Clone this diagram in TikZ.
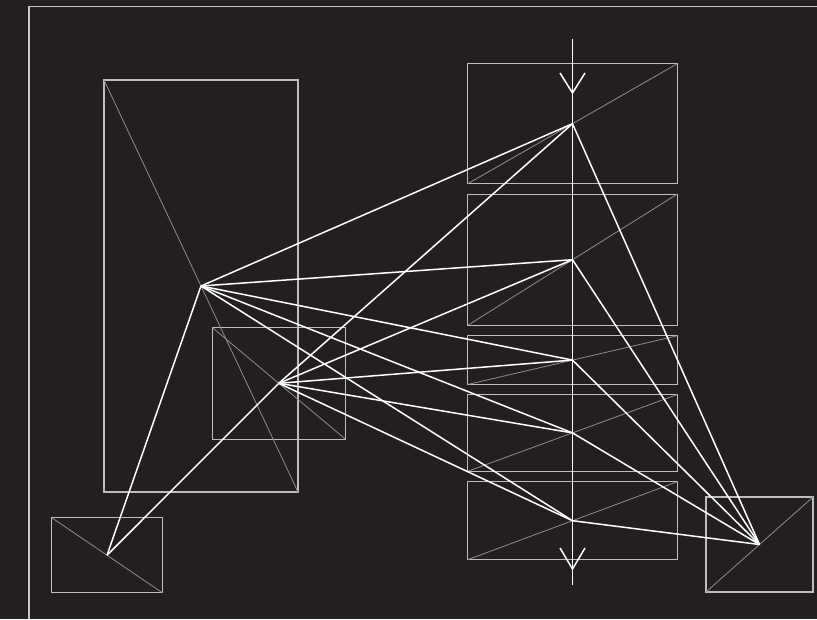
\documentclass[tikz,border=0pt]{standalone}
\begin{document}
\begin{tikzpicture}[x=1pt,y=-1pt,
  box/.style={draw=boxgrey, line width=1.1pt, inner sep=0pt, outer sep=0pt, minimum width=#1},
  diag/.style={draw=diaggrey, line width=0.8pt},
  link/.style={draw=white, line width=1.5pt},
  frameline/.style={draw=framegrey, line width=1.5pt}]
\definecolor{bg}{HTML}{231F20}
\definecolor{boxgrey}{HTML}{BDBDBD}
\definecolor{diaggrey}{HTML}{8E8E8E}
\definecolor{framegrey}{HTML}{C8C8C8}
\fill[bg] (0,0) rectangle (817,619);
\useasboundingbox (0,0) rectangle (817,619);
% frame
\coordinate (fbl) at (29,619);
\coordinate (ftl) at (29,6.5);
\coordinate (ftr) at (817,6.5);
\draw[frameline] (fbl) -- (ftl) -- (ftr);
% left boxes
\node[box=194pt, minimum height=412pt] (big) at (201,286) {};
\node[box=133pt, minimum height=111.5pt] (small) at (278.8,383.3) {};
\node[box=110.6pt, minimum height=75pt] (bl) at (107,555.2) {};
\node[box=107pt, minimum height=95pt] (br) at (759.5,544.5) {};
% right column
\node[box=209.6pt, minimum height=120pt] (r1) at (572.5,123.7) {};
\node[box=209.6pt, minimum height=131.3pt] (r2) at (572.5,259.7) {};
\node[box=209.6pt, minimum height=48.7pt] (r3) at (572.5,360.1) {};
\node[box=209.6pt, minimum height=76.8pt] (r4) at (572.5,432.9) {};
\node[box=209.6pt, minimum height=78pt] (r5) at (572.5,520.7) {};
% diagonals
\draw[diag] (big.north west) -- (big.south east);
\draw[diag] (small.north west) -- (small.south east);
\draw[diag] (bl.north west) -- (bl.south east);
\draw[diag] (br.south west) -- (br.north east);
\foreach \r in {r1,r2,r3,r4,r5} \draw[diag] (\r.south west) -- (\r.north east);
% axis with arrows
\coordinate (axt) at (572.5,39);
\coordinate (axb) at (572.5,585);
\draw[link] (axt) -- (axb);
\coordinate (at1) at (560,73); \coordinate (at2) at (572.5,93); \coordinate (at3) at (585,73);
\coordinate (ab1) at (560,548); \coordinate (ab2) at (572.5,569); \coordinate (ab3) at (585,548);
\draw[link] (at1) -- (at2) -- (at3);
\draw[link] (ab1) -- (ab2) -- (ab3);
% connectors
\foreach \r in {r1,r2,r3,r4,r5} {
  \draw[link] (big.center) -- (\r.center);
  \draw[link] (small.center) -- (\r.center);
  \draw[link] (br.center) -- (\r.center);
}
\draw[link] (bl.center) -- (big.center);
\draw[link] (bl.center) -- (small.center);
\end{tikzpicture}
\end{document}
